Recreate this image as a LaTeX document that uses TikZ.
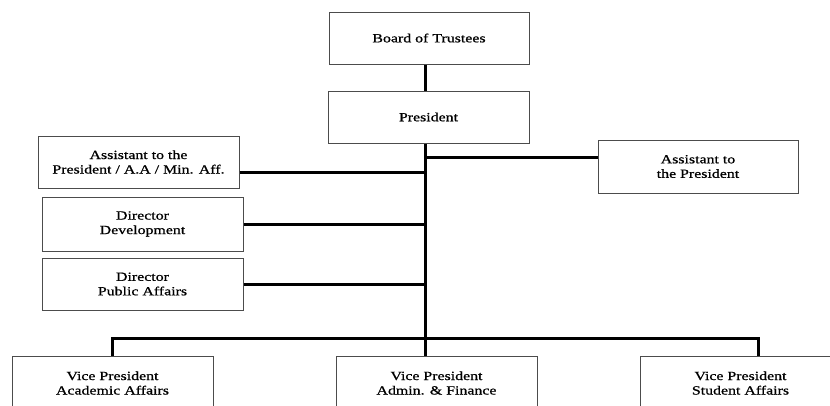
\documentclass[tikz,border=0pt]{standalone}
\usepackage{fontspec}
\setmainfont{Liberation Serif}[FakeStretch=1.27,FakeBold=0.8]
\usetikzlibrary{calc}
\begin{document}
\begin{tikzpicture}[x=1pt,y=-1pt,
  box/.style={draw=black!70, line width=1pt, fill=white, minimum width=201pt,
    minimum height=52pt, align=center, inner sep=0pt,
    font=\fontsize{12.5}{14.5}\selectfont},
  conn/.style={line width=3pt, black}]
\useasboundingbox (0,0) rectangle (830,405);
\clip (0,0) rectangle (830,405);
\coordinate (sp) at (425,0);
\coordinate (bus) at (0,338);
% boxes
\node[box, minimum width=200pt] (board) at (429,38) {Board of Trustees};
\node[box] (pres) at (428.5,117) {President};
\node[box] (asst1) at (138.5,162) {Assistant to the\\President / A.A / Min. Aff.};
\node[box, minimum width=200pt, minimum height=53pt] (asst2) at (698,166.5) {Assistant to\\the President};
\node[box, minimum height=54pt] (dev) at (142.5,224) {Director\\Development};
\node[box] (pa) at (142.5,284) {Director\\Public Affairs};
\node[box, minimum height=54pt] (vpa) at (112.5,383) {Vice President\\Academic Affairs};
\node[box, minimum height=54pt] (vpb) at (436.5,383) {Vice President\\Admin. \& Finance};
\node[box, minimum height=54pt] (vpc) at (740.5,383) {Vice President\\Student Affairs};
\coordinate (c3) at ($(vpc.north)+(17.5,0)$);
\coordinate (a1) at ($(asst1.east)+(0,10)$);
\coordinate (a2) at ($(asst2.west)+(0,-9.5)$);
% connectors
\draw[conn] (board.south -| sp) -- (pres.north -| sp);
\draw[conn] (pres.south -| sp) -- (vpb.north -| sp);
\draw[conn] (a1) -- (a1 -| sp);
\draw[conn] (a2) -- (a2 -| sp);
\draw[conn] (dev.east) -- (dev.east -| sp);
\draw[conn] (pa.east) -- (pa.east -| sp);
\draw[conn] (vpa.north) -- (vpa.north |- bus) -- (c3 |- bus) -- (c3);
\end{tikzpicture}
\end{document}
